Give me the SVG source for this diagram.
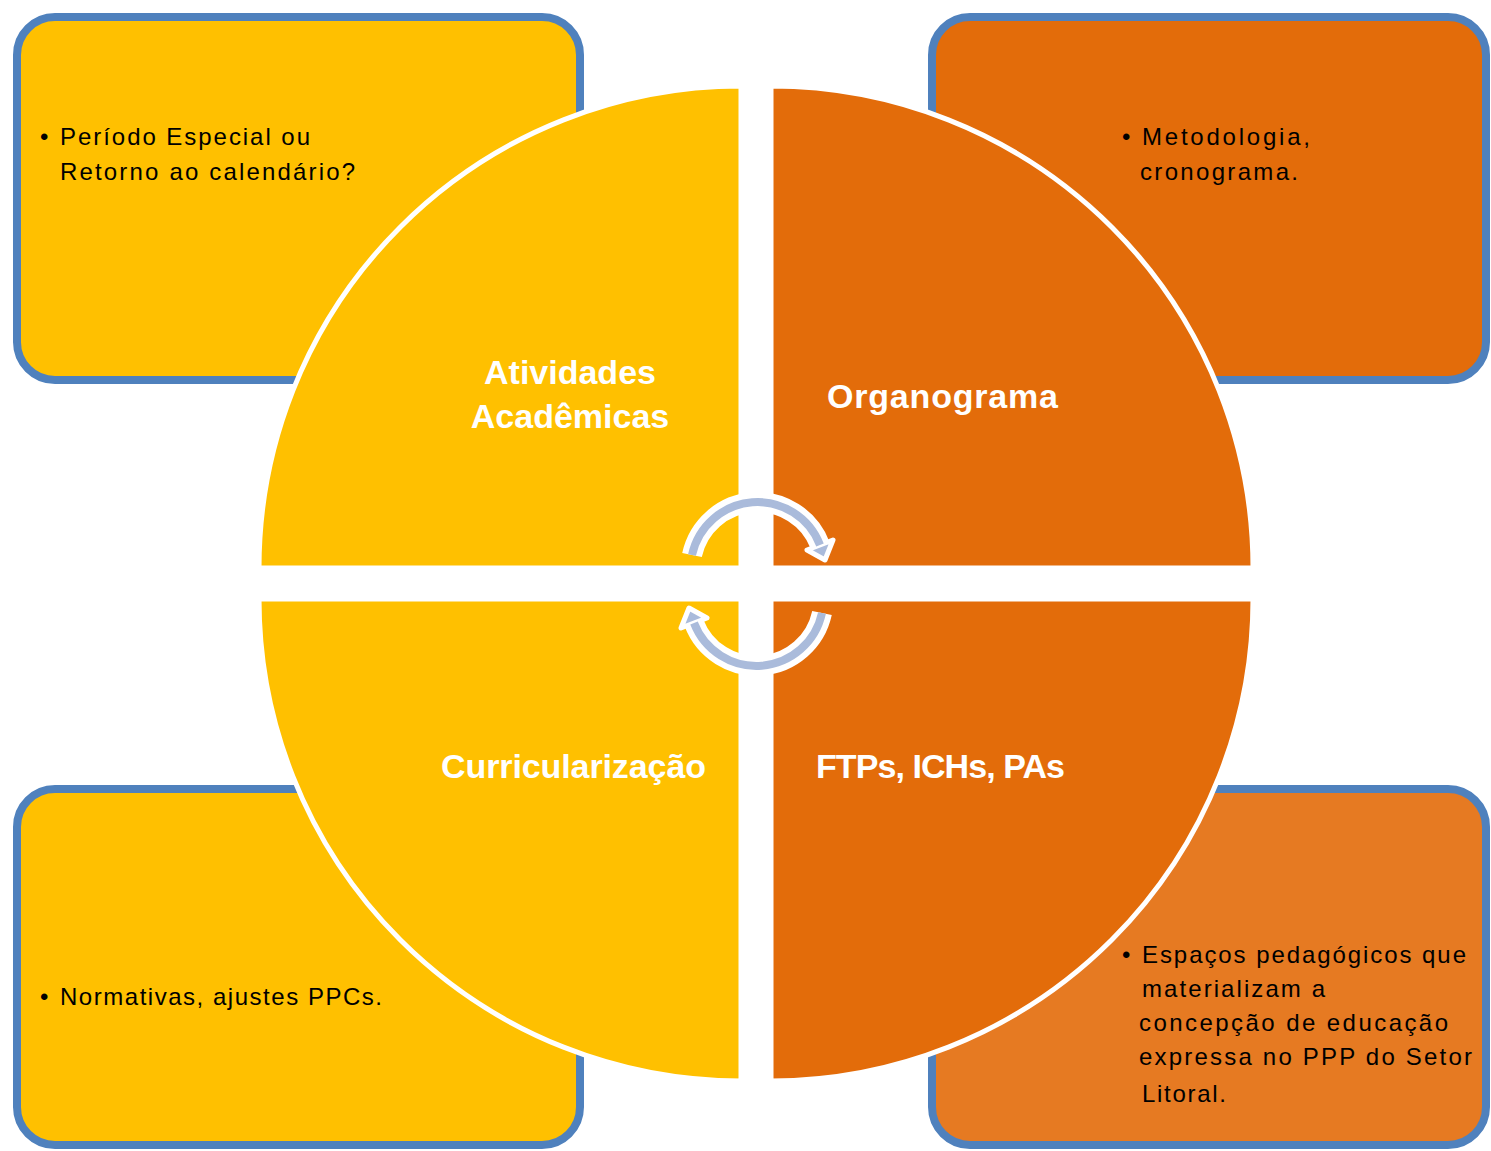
<svg xmlns="http://www.w3.org/2000/svg" width="1491" height="1151" viewBox="0 0 1491 1151">
<style>
.box{stroke:#4F81BD;stroke-width:8}
.y{fill:#FFC000}
.o{fill:#E36C0A}
.o2{fill:#E67A22}
.q{stroke:#FFFFFF;stroke-width:5}
.bt{font-family:"Liberation Sans",Arial,sans-serif;font-size:24px;fill:#000000}
.lbl{font-family:"Liberation Sans",Arial,sans-serif;font-size:34px;font-weight:bold;fill:#FFFFFF}
.arcw{fill:none;stroke:#FFFFFF;stroke-width:20}
.arcb{fill:none;stroke:#AABBDB;stroke-width:8}
.head{fill:#AABBDB;stroke:#FFFFFF;stroke-width:5;stroke-linejoin:round}
</style>
<rect width="1491" height="1151" fill="#FFFFFF"/>
<g id="box-tl">
<rect class="box y" x="17" y="17" width="563" height="363" rx="38"/>
<text class="bt" x="40" y="145">•</text>
<text class="bt" x="60" y="145" textLength="250" lengthAdjust="spacing">Período Especial ou</text>
<text class="bt" x="60" y="180" textLength="295" lengthAdjust="spacing">Retorno ao calendário?</text>
</g>
<g id="box-tr">
<rect class="box o" x="932" y="17" width="554" height="363" rx="38"/>
<text class="bt" x="1122" y="145">•</text>
<text class="bt" x="1142" y="145" textLength="168" lengthAdjust="spacing">Metodologia,</text>
<text class="bt" x="1140" y="180" textLength="158" lengthAdjust="spacing">cronograma.</text>
</g>
<g id="box-bl">
<rect class="box y" x="17" y="789" width="563" height="356" rx="38"/>
<text class="bt" x="40" y="1005">•</text>
<text class="bt" x="60" y="1005" textLength="322" lengthAdjust="spacing">Normativas, ajustes PPCs.</text>
</g>
<g id="box-br">
<rect class="box o2" x="932" y="789" width="554" height="356" rx="38"/>
<text class="bt" x="1122" y="963">•</text>
<text class="bt" x="1142" y="963" textLength="324" lengthAdjust="spacing">Espaços pedagógicos que</text>
<text class="bt" x="1142" y="997" textLength="183" lengthAdjust="spacing">materializam a</text>
<text class="bt" x="1139" y="1031" textLength="309" lengthAdjust="spacing">concepção de educação</text>
<text class="bt" x="1139" y="1065" textLength="333" lengthAdjust="spacing">expressa no PPP do Setor</text>
<text class="bt" x="1142" y="1102" textLength="84" lengthAdjust="spacing">Litoral.</text>
</g>
<g id="q-tl">
<path class="q y" d="M741,568 L259,568 A482,482 0 0 1 741,86 Z"/>
<text class="lbl" x="570" y="384" text-anchor="middle">Atividades</text>
<text class="lbl" x="570" y="428" text-anchor="middle">Acadêmicas</text>
</g>
<g id="q-tr">
<path class="q o" d="M771,568 L771,86 A482,482 0 0 1 1253,568 Z"/>
<text class="lbl" x="827" y="408" textLength="231" lengthAdjust="spacing">Organograma</text>
</g>
<g id="q-bl">
<path class="q y" d="M741,599 L741,1081 A482,482 0 0 1 259,599 Z"/>
<text class="lbl" x="441" y="778" textLength="265" lengthAdjust="spacing">Curricularização</text>
</g>
<g id="q-br">
<path class="q o" d="M771,599 L1253,599 A482,482 0 0 1 771,1081 Z"/>
<text class="lbl" x="816" y="778" textLength="249" lengthAdjust="spacing">FTPs, ICHs, PAs</text>
</g>
<g id="connectors">
<path class="arcw" d="M692,555 A67,67 0 0 1 820,545"/>
<path class="arcw" d="M822,613 A67,67 0 0 1 694,623"/>
<polygon class="head" points="833,540 807,550 825,560"/>
<polygon class="head" points="707,618 681,628 689,608"/>
<path class="arcb" d="M692,555 A67,67 0 0 1 820,545"/>
<path class="arcb" d="M822,613 A67,67 0 0 1 694,623"/>
</g>
</svg>
